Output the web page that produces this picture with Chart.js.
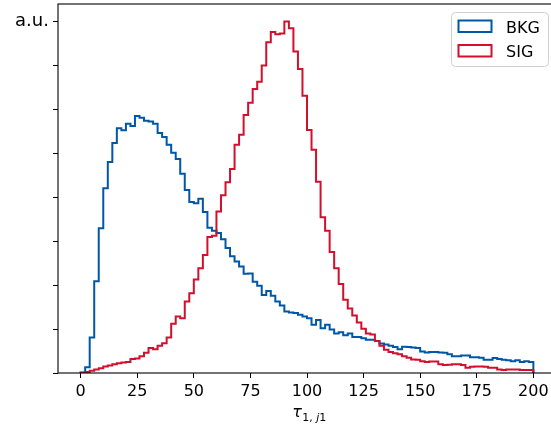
<!DOCTYPE html>
<html>
<head>
<meta charset="utf-8">
<script src="https://cdn.jsdelivr.net/npm/chart.js@4.4.1/dist/chart.umd.min.js"></script>
<style>
  html, body { margin: 0; padding: 0; background: #fff; overflow: hidden; }
  #wrap { width: 560px; height: 430px; }
</style>
</head>
<body>
<div id="wrap"><canvas id="c" width="560" height="430"></canvas></div>
<script>
// ---- data (density per 2-unit bin, arbitrary units) ----
const binEdges = Array.from({ length: 101 }, (_, i) => 2 * i); // 0..200
const seriesNames = ['BKG', 'SIG'];
const bkgValues = [
  0.01, 0.13, 0.81, 2.09, 3.30, 4.21, 4.81, 5.24, 5.58, 5.53, 5.68, 5.63, 5.86, 5.82, 5.75, 5.73, 5.68, 5.47, 5.38,
  5.20, 5.02, 4.88, 4.54, 4.17, 3.90, 3.87, 3.97, 3.67, 3.31, 3.24, 3.19, 3.05, 2.85, 2.66, 2.54, 2.43, 2.26, 2.27, 2.08,
  1.99, 1.78, 1.87, 1.76, 1.63, 1.54, 1.40, 1.38, 1.37, 1.33, 1.29, 1.25, 1.10, 1.21, 1.02, 1.10,
  0.99, 0.90, 0.93, 0.86, 0.90, 0.82, 0.82, 0.79, 0.76, 0.76, 0.73, 0.67, 0.65, 0.62, 0.59, 0.54, 0.60, 0.59, 0.58, 0.57,
  0.49, 0.47, 0.48, 0.48, 0.47, 0.46, 0.43, 0.38, 0.38, 0.40, 0.40, 0.36, 0.36, 0.35, 0.30, 0.30, 0.34, 0.32, 0.30, 0.29,
  0.27, 0.29, 0.25, 0.27, 0.25
];
const sigValues = [
  0.005, 0.02, 0.05, 0.08, 0.11, 0.15, 0.17, 0.20, 0.22, 0.24, 0.25, 0.32, 0.33, 0.38, 0.46, 0.57, 0.54, 0.62, 0.68,
  0.81, 1.12, 1.29, 1.25, 1.63, 1.82, 2.13, 2.39, 2.69, 3.10, 3.13, 3.68, 4.05, 4.35, 4.65, 5.20, 5.43, 5.88, 6.16,
  6.47, 6.64, 7.01, 7.54, 7.77, 7.72, 7.74, 8.01, 7.86, 7.33, 6.93, 6.32, 5.54, 5.09, 4.36, 3.55, 3.24, 2.76,
  2.39, 2.03, 1.67, 1.47, 1.31, 1.15, 1.01, 0.90, 0.88, 0.73, 0.62, 0.53, 0.48, 0.45, 0.43, 0.38, 0.35, 0.31, 0.30,
  0.27, 0.25, 0.26, 0.26, 0.20, 0.18, 0.19, 0.20, 0.20, 0.18, 0.12, 0.14, 0.15, 0.15, 0.14, 0.12, 0.12, 0.08, 0.07,
  0.08, 0.08, 0.08, 0.07, 0.07, 0.07
];
const xTickValues = [0, 25, 50, 75, 100, 125, 150, 175, 200];
const yTickValues = [0, 1, 2, 3, 4, 5, 6, 7, 8];
const yAxisLabel = 'a.u.';
const xAxisSymbol = 'τ';
const xAxisSub = ['1, ', 'j', '1'];

const colors = { BKG: '#0057a6', SIG: '#d20f2d' };
const FONT = '"DejaVu Sans", sans-serif';

function stepPoints(values) {
  const pts = [{ x: binEdges[0], y: 0 }];
  values.forEach((v, i) => pts.push({ x: binEdges[i], y: v }));
  pts.push({ x: binEdges[binEdges.length - 1], y: 0 });
  return pts;
}

const overlay = {
  id: 'overlay',
  afterDraw(chart) {
    const { ctx, chartArea: a } = chart;
    ctx.save();
    // axes frame
    ctx.strokeStyle = '#000';
    ctx.lineWidth = 1.1;
    ctx.strokeRect(a.left, a.top, a.right - a.left, a.bottom - a.top);

    // y label "a.u." at top-left
    ctx.fillStyle = '#000';
    ctx.font = '18px ' + FONT;
    ctx.textBaseline = 'alphabetic';
    ctx.textAlign = 'left';
    ctx.fillText(yAxisLabel, 15, 26);

    // x label tau_{1, j1}
    const mainFont = 'oblique 16px ' + FONT;
    const subUp = '11px ' + FONT;
    const subIt = 'oblique 11px ' + FONT;
    ctx.font = mainFont;
    const wT = ctx.measureText(xAxisSymbol).width;
    const subFonts = [subUp, subIt, subUp];
    let wS = 0;
    xAxisSub.forEach((s, i) => { ctx.font = subFonts[i]; wS += ctx.measureText(s).width; });
    let x = 309 - (wT + wS) / 2;
    const base = 417;
    ctx.font = mainFont;
    ctx.fillText(xAxisSymbol, x, base);
    x += wT + 0.5;
    xAxisSub.forEach((s, i) => {
      ctx.font = subFonts[i];
      ctx.fillText(s, x, base + 4);
      x += ctx.measureText(s).width;
    });

    // legend
    const lx = 451.5, ly = 12.5, lw = 97, lh = 54;
    ctx.beginPath();
    ctx.roundRect(lx, ly, lw, lh, 4);
    ctx.fillStyle = 'rgba(255,255,255,0.8)';
    ctx.fill();
    ctx.strokeStyle = '#d0d0d0';
    ctx.lineWidth = 1;
    ctx.stroke();
    const rows = [{ name: seriesNames[0], y: 20.5 }, { name: seriesNames[1], y: 45 }];
    rows.forEach(r => {
      ctx.strokeStyle = colors[r.name];
      ctx.lineWidth = 2;
      ctx.strokeRect(458.5, r.y, 33, 11.5);
      ctx.fillStyle = '#000';
      ctx.font = '16px ' + FONT;
      ctx.fillText(r.name, 506, r.y + 12);
    });
    ctx.restore();
  }
};

new Chart(document.getElementById('c'), {
  type: 'line',
  data: {
    datasets: [
      {
        label: seriesNames[0], data: stepPoints(bkgValues),
        borderColor: colors.BKG, borderWidth: 2, stepped: 'before',
        pointRadius: 0, fill: false, order: 2
      },
      {
        label: seriesNames[1], data: stepPoints(sigValues),
        borderColor: colors.SIG, borderWidth: 2, stepped: 'before',
        pointRadius: 0, fill: false, order: 1
      }
    ]
  },
  options: {
    responsive: false,
    animation: false,
    devicePixelRatio: 1,
    parsing: true,
    layout: { padding: { top: 4, right: 4, left: 0, bottom: 0 } },
    plugins: { legend: { display: false }, tooltip: { enabled: false } },
    scales: {
      x: {
        type: 'linear', position: 'bottom', min: -10, max: 210,
        afterBuildTicks: s => { s.ticks = xTickValues.map(v => ({ value: v })); },
        afterFit: s => { s.height = 57; },
        border: { display: false },
        grid: { drawOnChartArea: false, drawTicks: true, tickLength: 5, color: '#000', tickColor: '#000', lineWidth: 1 },
        ticks: { color: '#000', font: { family: FONT, size: 16 }, padding: 4, maxRotation: 0, autoSkip: false }
      },
      y: {
        type: 'linear', position: 'left', min: 0, max: 8.41,
        afterBuildTicks: s => { s.ticks = yTickValues.map(v => ({ value: v })); },
        afterFit: s => { s.width = 58; },
        border: { display: false },
        grid: { drawOnChartArea: false, drawTicks: true, tickLength: 5, color: '#000', tickColor: '#000', lineWidth: 1 },
        ticks: { display: false }
      }
    }
  },
  plugins: [overlay]
});
</script>
</body>
</html>
